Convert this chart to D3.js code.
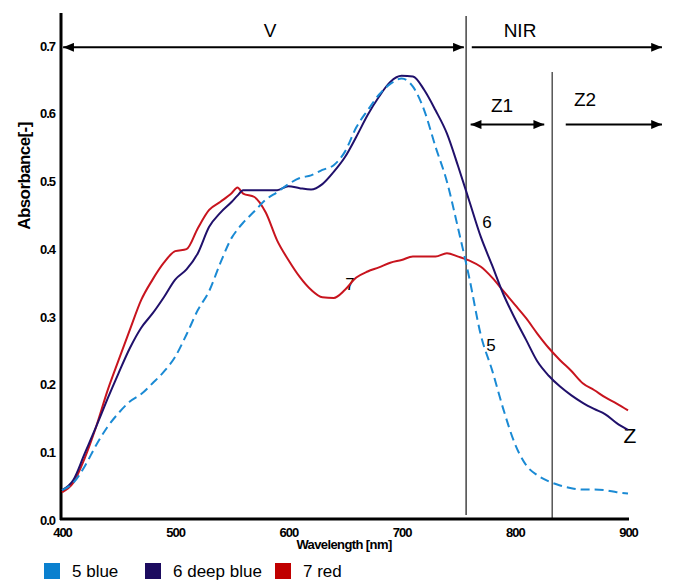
<!DOCTYPE html>
<html><head><meta charset="utf-8">
<script src="https://cdn.jsdelivr.net/npm/d3@7"></script>
<style>
body{margin:0;background:#fff;}
svg{display:block;font-family:"Liberation Sans",Arial,sans-serif;}
</style></head>
<body><svg id="c" width="680" height="581"></svg>
<script>
const wavelengths = [400,410,420,430,440,450,460,470,480,490,500,510,520,530,540,550,555,560,570,580,590,600,610,620,630,640,650,660,670,680,690,700,710,720,730,740,750,760,770,780,790,800,810,820,830,840,850,860,870,880,890,900];
const blue5 = [0.044,0.055,0.079,0.110,0.137,0.158,0.175,0.186,0.202,0.219,0.241,0.274,0.310,0.338,0.380,0.417,0.429,0.439,0.456,0.473,0.484,0.496,0.505,0.509,0.517,0.524,0.544,0.580,0.605,0.628,0.644,0.652,0.640,0.605,0.551,0.500,0.430,0.356,0.273,0.221,0.163,0.113,0.081,0.066,0.057,0.051,0.047,0.045,0.045,0.044,0.041,0.039];
const deepBlue6 = [0.044,0.059,0.098,0.137,0.178,0.217,0.254,0.284,0.305,0.329,0.355,0.370,0.394,0.433,0.454,0.470,0.479,0.487,0.487,0.487,0.487,0.493,0.490,0.488,0.496,0.514,0.536,0.566,0.598,0.625,0.647,0.656,0.655,0.635,0.605,0.571,0.522,0.470,0.418,0.376,0.333,0.298,0.266,0.234,0.213,0.197,0.184,0.173,0.164,0.156,0.143,0.133];
const red7 = [0.041,0.055,0.091,0.137,0.190,0.236,0.281,0.325,0.355,0.380,0.397,0.400,0.431,0.458,0.470,0.483,0.491,0.482,0.477,0.454,0.413,0.384,0.359,0.340,0.329,0.328,0.340,0.358,0.367,0.373,0.380,0.384,0.389,0.389,0.389,0.394,0.389,0.383,0.374,0.358,0.338,0.318,0.298,0.275,0.254,0.236,0.220,0.202,0.192,0.181,0.172,0.162];
const xTicks = [400,500,600,700,800,900];
const yTicks = [0,0.1,0.2,0.3,0.4,0.5,0.6,0.7];
const legendLabels = ["5 blue","6 deep blue","7 red"];
const legendColors = ["#0a80cf","#1c0b5f","#c00000"];
const lineColors = ["#1a8ad4","#20106b","#c8141e"];

const svg = d3.select("#c");
const x = d3.scaleLinear().domain([400,900]).range([62,628]);
const y = d3.scaleLinear().domain([0,0.7]).range([520,46]);

const defs = svg.append("defs");
defs.append("marker").attr("id","ah").attr("viewBox","0 0 12 10").attr("refX",12).attr("refY",5)
  .attr("markerWidth",12).attr("markerHeight",9).attr("markerUnits","userSpaceOnUse").attr("orient","auto-start-reverse")
  .append("path").attr("d","M0,0L12,5L0,10Z").attr("fill","#000");

// axes lines
svg.append("line").attr("x1",61).attr("x2",61).attr("y1",13).attr("y2",520).attr("stroke","#000").attr("stroke-width",3);
svg.append("line").attr("x1",60).attr("x2",629).attr("y1",519).attr("y2",519).attr("stroke","#000").attr("stroke-width",3);

const yAxis = svg.append("g").attr("transform","translate(58,0)")
  .call(d3.axisLeft(y).tickValues(yTicks).tickSize(0).tickFormat(d3.format(".1f")));
yAxis.select(".domain").remove();
yAxis.selectAll("text").attr("font-size",13).attr("font-weight","bold").attr("letter-spacing","-1px")
  .attr("font-family","'Liberation Sans',Arial,sans-serif").attr("fill","#000");

const xAxis = svg.append("g").attr("transform","translate(0,525)")
  .call(d3.axisBottom(x).tickValues(xTicks).tickSize(0).tickFormat(d3.format("d")));
xAxis.select(".domain").remove();
xAxis.selectAll("text").attr("font-size",13).attr("font-weight","bold").attr("letter-spacing","-1px")
  .attr("font-family","'Liberation Sans',Arial,sans-serif").attr("fill","#000");

svg.append("text").attr("transform","translate(30,176) rotate(-90)").attr("text-anchor","middle")
  .attr("font-size",17).attr("font-weight","bold").attr("letter-spacing","-0.6px").text("Absorbance[-]");
svg.append("text").attr("x",344).attr("y",549).attr("text-anchor","middle")
  .attr("font-size",13).attr("font-weight","bold").attr("letter-spacing","-0.6px").text("Wavelength [nm]");

// vertical lines
svg.append("line").attr("x1",x(757)).attr("x2",x(757)).attr("y1",16).attr("y2",515).attr("stroke","#444").attr("stroke-width",1.5);
svg.append("line").attr("x1",x(833)).attr("x2",x(833)).attr("y1",72).attr("y2",519).attr("stroke","#000").attr("stroke-width",1);

// arrows
function arrow(x1,x2,yy,both){
  svg.append("line").attr("x1",x1).attr("x2",x2).attr("y1",yy).attr("y2",yy)
    .attr("stroke","#000").attr("stroke-width",2)
    .attr("marker-end","url(#ah)").attr("marker-start",both?"url(#ah)":null);
}
arrow(x(401),x(755),y(0.698),true);
arrow(x(762),x(930),y(0.698),false);
arrow(x(761),x(826),y(0.584),true);
arrow(x(845),x(930),y(0.584),false);

const ann = [["V",270,37,19],["NIR",520,37,19],["Z1",502,112,19],["Z2",585,106,19],["6",487,228,17],["5",491,351,17],["7",350,290,17],["Z",630,443,21]];
ann.forEach(a=>svg.append("text").attr("x",a[1]).attr("y",a[2]).attr("text-anchor","middle").attr("font-size",a[3]).attr("fill","#000").text(a[0]));

// lines
const line = d3.line().x((d,i)=>x(wavelengths[i])).y(d=>y(d)).curve(d3.curveMonotoneX);
svg.append("path").datum(red7).attr("d",line).attr("fill","none").attr("stroke",lineColors[2]).attr("stroke-width",2);
svg.append("path").datum(deepBlue6).attr("d",line).attr("fill","none").attr("stroke",lineColors[1]).attr("stroke-width",2);
svg.append("path").datum(blue5).attr("d",line).attr("fill","none").attr("stroke",lineColors[0]).attr("stroke-width",2).attr("stroke-dasharray","9,5");

// legend
const legX = [44,145,275];
legendLabels.forEach((l,i)=>{
  svg.append("rect").attr("x",legX[i]).attr("y",563).attr("width",16).attr("height",16).attr("fill",legendColors[i]);
  svg.append("text").attr("x",legX[i]+28).attr("y",577).attr("font-size",17).attr("fill","#000").text(l);
});
</script></body></html>
